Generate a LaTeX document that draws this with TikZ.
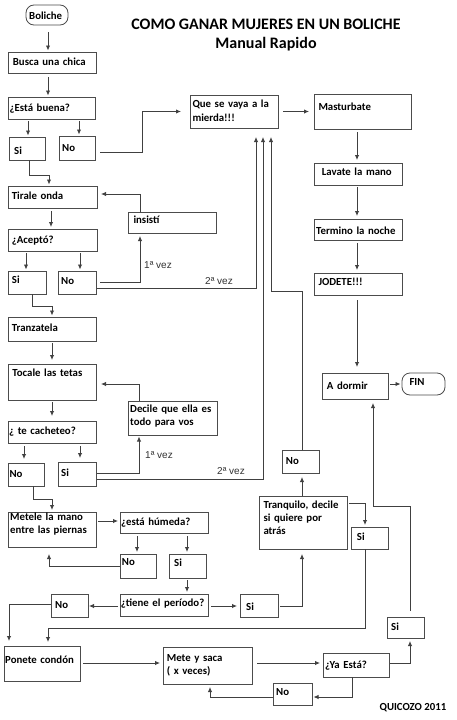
\documentclass[tikz,border=0pt]{standalone}
\usepackage{fontspec}
\setmainfont{Carlito}
\newfontfamily\labfont{Liberation Sans}
\usetikzlibrary{arrows.meta,calc}
\newcommand\bxn[6][]{%
  \pgfmathsetmacro\bxw{#5-#3}\pgfmathsetmacro\bxh{#6-#4}%
  \node[box,minimum width=\bxw pt,minimum height=\bxh pt,#1] (#2) at ({(#3+#5)/2},{(#4+#6)/2}) {};}
\newcommand\tx[4][]{\node[txt,#1] (#2-t) at (#3) {#4};}
\begin{document}
\begin{tikzpicture}[x=1pt,y=-1pt,
 box/.style={draw=black!70,line width=0.8pt,inner sep=0pt,outer sep=0pt,fill=white},
 rbox/.style={box,rounded corners=8pt},
 txt/.style={font=\bfseries\fontsize{10.8}{13}\selectfont,inner sep=0pt,anchor=base west,align=left,text width=95pt},
 ttl/.style={font=\bfseries\fontsize{16}{19}\selectfont,inner sep=0pt,anchor=base},
 ln/.style={draw=black!75,line width=0.9pt},
 arr/.style={ln,-{Latex[length=5pt,width=4.5pt]},shorten >=1.5pt},
 lbl/.style={font=\labfont\fontsize{10}{12}\selectfont,text=black!80,inner sep=0pt,anchor=base west},
]
\useasboundingbox (0,0) rectangle (457,720);
\fill[white] (0,0) rectangle (457,720);
% boxes
\bxn[rbox]{bol}{26}{5}{68}{25}
\bxn{busca}{8}{52}{96}{73}
\bxn{esta}{8}{97}{95}{119}
\bxn{si1}{9}{137}{45}{160}
\bxn{no1}{59}{136}{95}{160}
\bxn{qsv}{190}{95}{278}{128}
\bxn{mast}{314}{94}{411}{129}
\bxn{lav}{314}{163}{402}{185}
\bxn{term}{314}{219}{402}{240}
\bxn{jod}{314}{273}{402}{295}
\bxn{dorm}{322}{373}{388}{399}
\bxn[rbox]{fin}{402}{373}{445}{395}
\bxn{tir}{8}{186}{97}{208}
\bxn{ins}{128}{212}{216}{233}
\bxn{acep}{8}{229}{97}{251}
\bxn{si2}{8}{271}{46}{294}
\bxn{no2}{58}{271}{96}{294}
\bxn{tranz}{8}{317}{96}{341}
\bxn{toc}{8}{364}{96}{400}
\bxn{dec}{128}{401}{217}{435}
\bxn{cach}{8}{421}{96}{443}
\bxn{no3}{8}{463}{44}{486}
\bxn{si3}{58}{462}{96}{486}
\bxn{met}{8}{512}{96}{547}
\bxn{hum}{120}{512}{208}{533}
\bxn{no4}{120}{554}{156}{578}
\bxn{si4}{169}{554}{206}{578}
\bxn{per}{120}{594}{208}{616}
\bxn{no5}{51}{594}{88}{617}
\bxn{si5}{240}{594}{278}{617}
\bxn{tranq}{259}{496}{347}{549}
\bxn{no6}{282}{450}{319}{473}
\bxn{si6}{351}{527}{388}{549}
\bxn{si7}{387}{617}{424}{638}
\bxn{pon}{4}{646}{80}{681}
\bxn{mete}{163}{647}{252}{684}
\bxn{ya}{323}{653}{389}{677}
\bxn{no7}{273}{683}{312}{705}
% connectors
\draw[arr,shorten <=7pt] (48,0 |- bol.south) -- (48,0 |- busca.north);
\draw[arr,shorten <=4pt] (48,0 |- busca.south) -- (48,0 |- esta.north);
\draw[arr,shorten <=2pt] (28,0 |- esta.south) -- (28,0 |- si1.north);
\draw[arr,shorten <=2pt] (79,0 |- esta.south) -- (79,0 |- no1.north);
\draw[arr,shorten <=5pt,shorten >=9pt] (no1.east |- 0,152) -| (142,0 |- qsv.west) -- (qsv.west);
\draw[arr,shorten <=5pt,shorten >=5pt] (qsv.east) -- (mast.west);
\draw[arr,shorten <=3pt,shorten >=3pt] (357,0 |- mast.south) -- (357,0 |- lav.north);
\draw[arr,shorten <=2pt,shorten >=3pt] (357,0 |- lav.south) -- (357,0 |- term.north);
\draw[arr,shorten <=3pt,shorten >=3pt] (357,0 |- term.south) -- (357,0 |- jod.north);
\draw[arr,shorten <=5pt,shorten >=6pt] (357,0 |- jod.south) -- (357,0 |- dorm.north);
\draw[arr,shorten <=2pt] (dorm.east |- fin.west) -- (fin.west);
\draw[arr] (29,0 |- si1.south) -- (29,175) -| (49,0 |- tir.north);
\draw[arr,shorten <=3pt,shorten >=2pt] (51,0 |- tir.south) -- (51,0 |- acep.north);
\draw[arr,shorten >=4pt] (140,0 |- ins.north) |- (tir.east |- 0,194);
\draw[arr,shorten <=2pt] (26,0 |- acep.south) -- (26,0 |- si2.north);
\draw[arr,shorten <=2pt] (80,0 |- acep.south) -- (80,0 |- no2.north);
\draw[arr,shorten <=4pt,shorten >=3pt] (no2.east |- 0,282) -| (140,0 |- ins.south);
\draw[arr,shorten <=1pt,shorten >=9pt] (no2.east |- 0,288) -| (256,0 |- qsv.south);
\draw[arr] (32,0 |- si2.south) -- (32,306) -| (52,0 |- tranz.north);
\draw[arr,shorten <=2pt,shorten >=4pt] (52,0 |- tranz.south) -- (52,0 |- toc.north);
\draw[arr,shorten >=5pt] (139,0 |- dec.north) |- (toc.east |- 0,384);
\draw[arr,shorten <=2pt,shorten >=5pt] (52,0 |- toc.south) -- (52,0 |- cach.north);
\draw[arr,shorten <=3pt,shorten >=4pt] (24,0 |- cach.south) -- (24,0 |- no3.north);
\draw[arr,shorten <=3pt,shorten >=4pt] (80,0 |- cach.south) -- (80,0 |- si3.north);
\draw[arr,shorten <=1pt] (si3.east |- 0,473) -| (139,0 |- dec.south);
\draw[arr,shorten <=1pt,shorten >=9pt] (si3.east |- 0,479) -| (263,0 |- qsv.south);
\draw[arr,shorten >=2pt] (33,0 |- no3.south) -- (33,499) -| (52,0 |- met.north);
\draw[arr,shorten <=2pt,shorten >=2pt] (met.east |- 0,521) -- (hum.west |- 0,521);
\draw[arr,shorten <=3pt,shorten >=2pt] (137,0 |- hum.south) -- (137,0 |- no4.north);
\draw[arr,shorten <=3pt,shorten >=2pt] (187,0 |- hum.south) -- (187,0 |- si4.north);
\draw[arr,shorten >=7pt] (no4.west |- 0,566) -| (49,0 |- met.south);
\draw[arr,shorten <=2pt,shorten >=2pt] (187,0 |- si4.south) -- (187,0 |- per.north);
\draw[arr,shorten <=2pt,shorten >=1pt] (per.west |- 0,606) -- (no5.east |- 0,606);
\draw[arr,shorten <=3pt,shorten >=3pt] (per.east |- 0,606) -- (si5.west |- 0,606);
\draw[arr,shorten <=2pt,shorten >=5pt] (si5.east |- 0,606) -| (302,0 |- tranq.south);
\draw[arr,shorten >=4pt] (302,0 |- tranq.north) -- (302,0 |- no6.south);
\draw[arr,shorten >=9pt] (302,0 |- no6.north) |- (271,291) -- (271,0 |- qsv.south);
\draw[arr,shorten <=2pt,shorten >=2pt] (tranq.east |- 0,503) -| (365,0 |- si6.north);
\draw[arr,shorten >=4pt] (365,0 |- si6.south) |- (48,628) -- (48,0 |- pon.north);
\draw[arr,shorten >=5pt] (no5.west |- 0,604) -| (9,0 |- pon.north);
\draw[arr,shorten <=3pt,shorten >=3pt] (pon.east |- 0,663) -- (mete.west |- 0,663);
\draw[arr,shorten <=5pt,shorten >=3pt] (mete.east |- 0,663) -- (ya.west |- 0,663);
\draw[arr] (352,0 |- ya.south) |- (no7.east |- 0,697);
\draw[arr,shorten >=3pt] (no7.west |- 0,697) -| (210,0 |- mete.south);
\draw[arr,shorten <=1pt,shorten >=3pt] (ya.east |- 0,663) -| (410,0 |- si7.south);
\draw[arr,shorten <=6pt,shorten >=4pt] (410,0 |- si7.north) |- (373,506) -- (373,0 |- dorm.south);
% labels
\node[lbl] (l1) at (144,268) {1ª vez};
\node[lbl] (l2) at (205,284) {2ª vez};
\node[lbl] (l3) at (145,458) {1ª vez};
\node[lbl] (l4) at (217,474) {2ª vez};
% titles
\node[ttl] (t1) at (266,29.3) {COMO GANAR MUJERES EN UN BOLICHE};
\node[ttl] (t2) at (266,48.3) {Manual Rapido};
\node[txt,anchor=base,text width=] (quic) at (413,710.5) {QUICOZO 2011};
% texts
\tx{bol}{29,19.2}{Boliche}
\tx{busca}{12.7,65.2}{Busca una chica}
\tx{esta}{9.5,111.8}{¿Está buena?}
\tx{si1}{14,154}{Si}
\tx{no1}{62,151.8}{No}
\tx[font=\bfseries\fontsize{10.8}{14}\selectfont]{qsv}{192.3,107.8}{Que se vaya a la\\mierda!!!}
\tx{mast}{318.3,110.2}{Masturbate}
\tx{lav}{321.7,175.2}{Lavate la mano}
\tx{term}{316,234.2}{Termino la noche}
\tx{jod}{318.3,285.2}{JODETE!!!}
\tx{dorm}{326.7,389.2}{A dormir}
\tx{fin}{409.3,385.2}{FIN}
\tx{tir}{11.7,199.5}{Tirale onda}
\tx{ins}{133.3,223.5}{insistí}
\tx{acep}{11.7,243.5}{¿Aceptó?}
\tx{si2}{11.7,283.5}{Si}
\tx{no2}{61,284.5}{No}
\tx{tranz}{11.7,331.8}{Tranzatela}
\tx{toc}{12.3,376.2}{Tocale las tetas}
\tx[font=\bfseries\fontsize{10.8}{12.4}\selectfont]{dec}{130,412.8}{Decile que ella es\\todo para vos}
\tx{cach}{9,434.5}{¿ te cacheteo?}
\tx{no3}{9.3,477.8}{No}
\tx{si3}{61,476.8}{Si}
\tx[font=\bfseries\fontsize{10.8}{13.3}\selectfont]{met}{10,520.2}{Metele la mano\\entre las piernas}
\tx{hum}{121,525.2}{¿está húmeda?}
\tx{no4}{121.7,565.2}{No}
\tx{si4}{174,566.8}{Si}
\tx{per}{120.7,606.8}{¿tiene el período?}
\tx{no5}{55,608.5}{No}
\tx{si5}{246,610.2}{Si}
\tx[font=\bfseries\fontsize{10.8}{12.8}\selectfont]{tranq}{263.3,508.5}{Tranquilo, decile\\si quiere por\\atrás}
\tx{no6}{285.7,464.2}{No}
\tx{si6}{356.7,540.2}{Si}
\tx{si7}{391,630.8}{Si}
\tx{pon}{5,663.5}{Ponete condón}
\tx[font=\bfseries\fontsize{10.8}{12.7}\selectfont]{mete}{166.7,661.8}{Mete y saca\\( x veces)}
\tx{ya}{325,668.5}{¿Ya Está?}
\tx{no7}{276,695.2}{No}
\end{tikzpicture}
\end{document}
